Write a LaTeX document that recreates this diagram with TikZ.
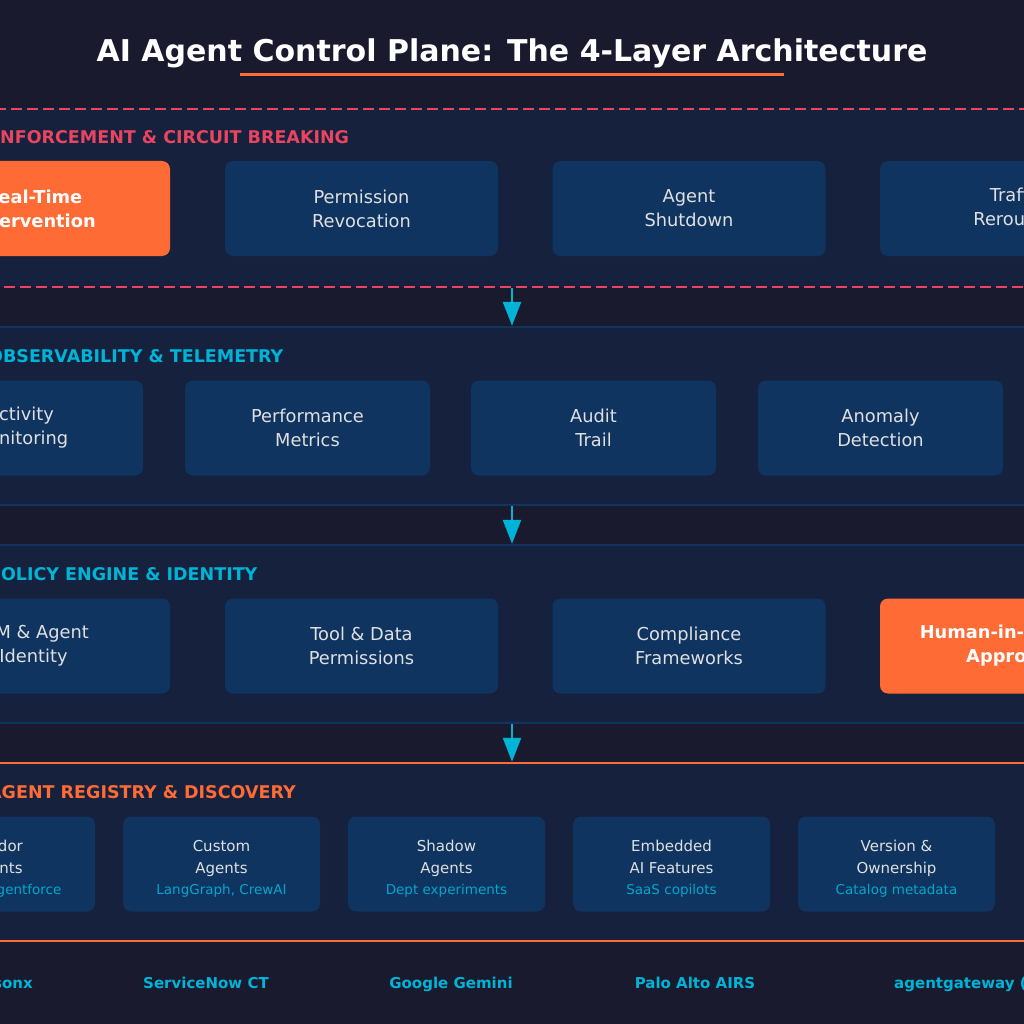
\documentclass[tikz,border=0pt]{standalone}
\usepackage{fontspec}
\setmainfont{DejaVu Sans}
\usepackage{tikz}
\usetikzlibrary{arrows.meta, positioning}
\definecolor{cpbg}{HTML}{1A1A2E}
\definecolor{cppanel}{HTML}{16213E}
\definecolor{cpbox}{HTML}{0F3460}
\definecolor{cpred}{HTML}{E94560}
\definecolor{cporange}{HTML}{FF6B35}
\definecolor{cpcyan}{HTML}{00B4D8}
\definecolor{cptext}{HTML}{E0E0E0}
\newcommand{\subtxt}[1]{{\color{cpcyan!90!cpbox}\fontsize{13.5}{21.5}\selectfont #1}}
\newcommand{\regtop}{\rule{0pt}{21pt}}
\tikzset{
  layer/.style={rectangle, fill=cppanel, inner sep=0pt,
    minimum width=1400pt, minimum height=178pt},
  tag/.style={inner sep=0pt, font=\bfseries\fontsize{17.5}{21}\selectfont},
  comp/.style={rectangle, rounded corners=8pt, fill=cpbox, text=cptext,
    align=center, inner sep=0pt, minimum height=95pt,
    font=\fontsize{17.8}{24}\selectfont},
  hot/.style={comp, fill=cporange, text=white,
    font=\bfseries\fontsize{17.8}{24}\selectfont},
  reg/.style={comp, minimum width=197pt, font=\fontsize{15}{21.5}\selectfont},
  vendor/.style={inner sep=0pt, text=cpcyan,
    font=\bfseries\fontsize{15}{18}\selectfont},
  ar/.style={-{Triangle[length=24pt, width=18pt]}, line width=2.5pt, cpcyan},
}

\begin{document}
\begin{tikzpicture}[x=1pt, y=-1pt]

  % --- Canvas ---
  \useasboundingbox (0,0) rectangle (1024,1024);
  \fill[cpbg] (0,0) rectangle (1024,1024);
  \clip (0,0) rectangle (1024,1024);

  % --- Title ---
  \node[anchor=base, inner sep=0pt, text=white,
        font=\bfseries\fontsize{30}{36}\selectfont] (title) at (512,62)
        {AI Agent Control Plane: The 4-Layer Architecture};
  \node[fill=cporange, inner sep=0pt, minimum width=544pt,
        minimum height=3pt] (rule) at (512,74.5) {};

  % --- Layer 4: Enforcement ---
  \node[layer, draw=cpred, line width=2.5pt, dash pattern=on 11pt off 5pt]
        (enf) at (512,198) {};
  \node[tag, text=cpred, anchor=base west] (enftag) at (-12,144)
        {ENFORCEMENT \& CIRCUIT BREAKING};
  \node[hot, minimum width=273pt] (intervene) at (33.5,208.5) {Real-Time\\Intervention};
  \node[comp, minimum width=273pt] (revoke) at (361.5,208.5) {Permission\\Revocation};
  \node[comp, minimum width=273pt] (shutdown) at (689,208.5) {Agent\\Shutdown};
  \node[comp, minimum width=273pt] (reroute) at (1016.5,208.5) {Traffic\\Rerouting};

  % --- Layer 3: Observability ---
  \node[layer, draw=cpbox, line width=2.5pt] (obs) at (512,416) {};
  \node[tag, text=cpcyan, anchor=base west] (obstag) at (-12,362)
        {OBSERVABILITY \& TELEMETRY};
  \node[comp, minimum width=245pt] (activity) at (20.5,428) {Activity\\Monitoring};
  \node[comp, minimum width=245pt] (perf) at (307.5,428) {Performance\\Metrics};
  \node[comp, minimum width=245pt] (audit) at (593.5,428) {Audit\\Trail};
  \node[comp, minimum width=245pt] (anomaly) at (880.5,428) {Anomaly\\Detection};

  % --- Layer 2: Policy ---
  \node[layer, draw=cpbox, line width=2.5pt] (policy) at (512,634) {};
  \node[tag, text=cpcyan, anchor=base west] (policytag) at (-12,580)
        {POLICY ENGINE \& IDENTITY};
  \node[comp, minimum width=273pt] (iam) at (33.5,646) {IAM \& Agent\\Identity};
  \node[comp, minimum width=273pt] (perms) at (361.5,646) {Tool \& Data\\Permissions};
  \node[comp, minimum width=273pt] (compliance) at (689,646) {Compliance\\Frameworks};
  \node[hot, minimum width=273pt] (hitl) at (1016.5,646) {Human-in-the-Loop\\Approvals};

  % --- Layer 1: Registry ---
  \node[layer, draw=cporange, line width=2.5pt] (registry) at (512,852) {};
  \node[tag, text=cporange, anchor=base west] (registrytag) at (-12,798)
        {AGENT REGISTRY \& DISCOVERY};
  \node[reg] (vendorag) at (-3.5,864)
        {\regtop Vendor\\Agents\\\subtxt{Copilot, Agentforce}};
  \node[reg] (customag) at (221.5,864)
        {\regtop Custom\\Agents\\\subtxt{LangGraph, CrewAI}};
  \node[reg] (shadowag) at (446.5,864)
        {\regtop Shadow\\Agents\\\subtxt{Dept experiments}};
  \node[reg] (embedded) at (671.5,864)
        {\regtop Embedded\\AI Features\\\subtxt{SaaS copilots}};
  \node[reg] (ownership) at (896.5,864)
        {\regtop Version \&\\Ownership\\\subtxt{Catalog metadata}};

  % --- Flow between layers ---
  \draw[ar] (enf.south) -- (obs.north);
  \draw[ar] (obs.south) -- (policy.north);
  \draw[ar] (policy.south) -- (registry.north);

  % --- Vendors ---
  \node[vendor, anchor=base east] (watsonx) at (33,988) {IBM watsonx};
  \node[vendor, anchor=base] (servicenow) at (206,988) {ServiceNow CT};
  \node[vendor, anchor=base] (gemini) at (451,988) {Google Gemini};
  \node[vendor, anchor=base] (airs) at (695,988) {Palo Alto AIRS};
  \node[vendor, anchor=base west] (agw) at (894,988) {agentgateway (LF)};

\end{tikzpicture}
\end{document}
